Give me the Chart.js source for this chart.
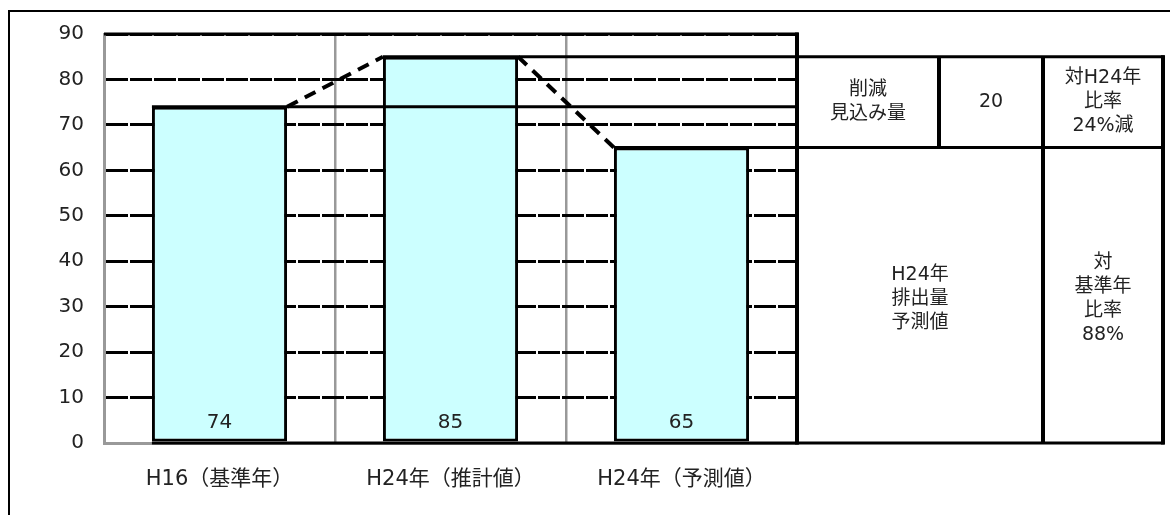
<!DOCTYPE html>
<html><head><meta charset="utf-8">
<script src="https://cdn.jsdelivr.net/npm/chart.js@4"></script>
<style>html,body{margin:0;padding:0;background:#fff}canvas{display:block}</style>
</head><body>
<canvas id="c" width="1170" height="515"></canvas>
<script>
const categories = ['H16（基準年）', 'H24年（推計値）', 'H24年（予測値）'];
const values = [74, 85, 65];
const yTicks = [0, 10, 20, 30, 40, 50, 60, 70, 80, 90];
const tableRow1 = [['削減', '見込み量'], ['20'], ['対H24年', '比率', '24%減']];
const tableRow2 = [['H24年', '排出量', '予測値'], ['対', '基準年', '比率', '88%']];

const FONT = '"DejaVu Sans", "Noto Sans CJK JP", sans-serif';
const TABLE_W = 366, COL1 = 142, COL2 = 246;

function line(ctx, x1, y1, x2, y2, w, dash) {
  ctx.save();
  ctx.beginPath();
  ctx.lineWidth = w; ctx.strokeStyle = '#000';
  ctx.setLineDash(dash || []);
  ctx.moveTo(x1, y1); ctx.lineTo(x2, y2); ctx.stroke();
  ctx.restore();
}
function cellText(ctx, lines, x1, x2, y1, y2, size, lh) {
  ctx.save();
  ctx.fillStyle = '#222';
  ctx.font = size + 'px ' + FONT;
  ctx.textAlign = 'center'; ctx.textBaseline = 'middle';
  const cx = (x1 + x2) / 2, cy = (y1 + y2) / 2;
  const start = cy - (lines.length - 1) * lh / 2;
  lines.forEach((t, i) => ctx.fillText(t, cx, start + i * lh));
  ctx.restore();
}

const tablePlugin = {
  id: 'tbl',
  beforeDraw(chart) {
    const ctx = chart.ctx;
    ctx.save();
    ctx.fillStyle = '#fff';
    ctx.fillRect(0, 0, chart.width, chart.height);
    ctx.lineWidth = 2; ctx.strokeStyle = '#000';
    ctx.strokeRect(9, 11, 1400, 700);
    ctx.restore();
  },
  afterDatasetsDraw(chart) {
    const ctx = chart.ctx, ys = chart.scales.y, ca = chart.chartArea;
    const bars = chart.getDatasetMeta(0).data;
    const tr = ca.right + TABLE_W;
    const yv = v => ys.getPixelForValue(v);
    const left = b => b.x - b.width / 2, right = b => b.x + b.width / 2;
    const top = Math.max(...values), last = values[values.length - 1];
    const yTop = yv(yTicks[yTicks.length - 1]);
    // top of plot
    line(ctx, ca.left, yTop, ca.right + 1.5, yTop, 3);
    // plot right border
    line(ctx, ca.right, yTop - 1.5, ca.right, yv(0) + 1.5, 4);
    // baseline
    line(ctx, left(bars[0]), yv(0), tr + 1.5, yv(0), 3);
    // level lines: the first ends at the plot edge, the others bound the table
    values.forEach((v, i) => {
      const end = (v === top || i === values.length - 1) ? tr + 1.5 : ca.right;
      line(ctx, left(bars[i]), yv(v), end, yv(v), 3);
    });
    // dashed connectors
    for (let i = 0; i < values.length - 1; i++) {
      line(ctx, right(bars[i]), yv(values[i]), left(bars[i + 1]), yv(values[i + 1]), 4, [12, 8]);
    }
    // table verticals
    line(ctx, tr, yv(top) - 1.5, tr, yv(0) + 1.5, 4);
    line(ctx, ca.right + COL1, yv(top), ca.right + COL1, yv(last), 4);
    line(ctx, ca.right + COL2, yv(top), ca.right + COL2, yv(0), 4);
    // table text
    const cols1 = [ca.right, ca.right + COL1, ca.right + COL2, tr];
    tableRow1.forEach((t, i) => cellText(ctx, t, cols1[i], cols1[i + 1], yv(top), yv(last), 19, 24));
    const cols2 = [ca.right, ca.right + COL2, tr];
    tableRow2.forEach((t, i) => cellText(ctx, t, cols2[i], cols2[i + 1], yv(last), yv(0) + 8, 19, 24));
    // data labels
    ctx.save();
    ctx.fillStyle = '#222';
    ctx.font = '20px ' + FONT;
    ctx.textAlign = 'center'; ctx.textBaseline = 'middle';
    values.forEach((v, i) => ctx.fillText(String(v), bars[i].x, yv(0) - 20));
    ctx.restore();
  }
};

new Chart(document.getElementById('c'), {
  type: 'bar',
  data: {
    labels: categories,
    datasets: [{
      data: values,
      backgroundColor: '#CCFFFF',
      borderColor: '#000',
      borderWidth: 3,
      borderSkipped: false,
      categoryPercentage: 1,
      barPercentage: 0.585
    }]
  },
  options: {
    responsive: false,
    animation: false,
    devicePixelRatio: 1,
    layout: { padding: { left: 0, top: 34, right: 373, bottom: 0 } },
    plugins: { legend: { display: false }, tooltip: { enabled: false } },
    scales: {
      x: {
        grid: { color: '#999', lineWidth: 2.5, drawTicks: false, offset: true },
        border: { color: '#999', width: 3 },
        ticks: { color: '#222', font: { family: FONT, size: 21 }, padding: 24, maxRotation: 0 },
        afterFit(s) { s.height = 72; }
      },
      y: {
        min: 0, max: 90,
        afterBuildTicks(s) { s.ticks = yTicks.map(v => ({ value: v })); },
        grid: {
          color: c => (c.tick && c.tick.value === 0) ? '#999' : '#000',
          lineWidth: 3, drawTicks: false
        },
        border: { color: '#999', width: 3, dash: [22, 2] },
        ticks: { color: '#222', font: { family: FONT, size: 20 }, padding: 20 },
        afterFit(s) { s.width = 104; }
      }
    }
  },
  plugins: [tablePlugin]
});
</script>
</body></html>
